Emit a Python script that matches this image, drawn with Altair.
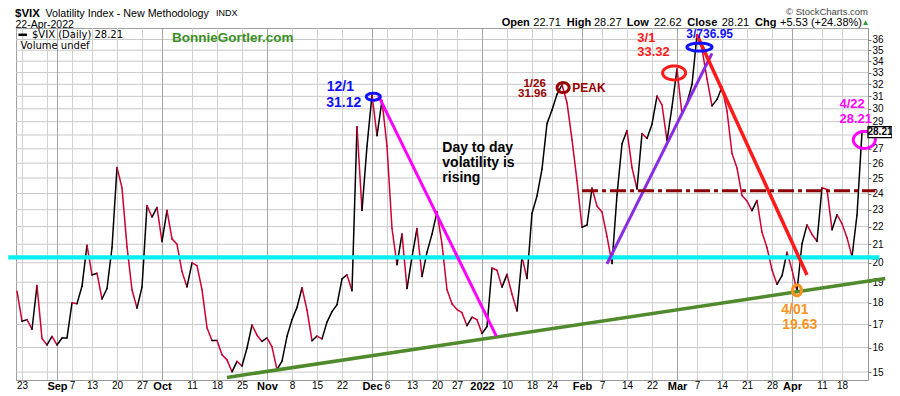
import altair as alt
import numpy as np
import pandas as pd

# ---------------- data ----------------
# $VIX daily closes, trading days 20-Aug-2021 .. 22-Apr-2022 (index 0 = Aug 20)
vix_close = [18.56, 17.15, 17.22, 16.79, 18.84, 16.39, 16.11, 16.48,
             16.11, 16.41, 16.41, 18.00, 17.96, 18.80, 20.95, 19.37, 19.46, 18.18, 18.69, 20.81,
             25.71, 24.36, 20.87, 18.63, 17.75, 18.76, 23.25, 22.56, 23.14,
             21.15, 22.96, 21.30, 21.00, 19.54, 18.77, 20.00, 19.85, 18.64, 16.86, 16.30,
             16.30, 15.70, 15.49, 15.01, 15.43, 15.24, 15.98, 16.98, 16.53, 16.26,
             16.41, 16.03, 15.10, 15.44, 16.48, 17.22, 17.78, 18.73, 17.66, 16.29,
             16.49, 16.37, 17.11, 17.59, 17.91, 19.17, 19.38, 18.58, 28.62, 22.96, 27.19,
             31.12, 27.95, 30.67, 27.18, 21.89, 19.90, 21.58, 18.69, 20.31, 21.89, 19.29,
             20.57, 21.57, 22.87, 21.01, 18.63, 17.96, 17.68, 17.54, 16.95, 17.33, 17.22,
             16.60, 16.91, 19.73, 19.61, 18.76, 19.40, 18.41, 17.62, 20.31, 19.19,
             22.79, 23.85, 25.59, 28.85, 29.90, 31.16, 31.96, 30.49, 27.66, 24.83,
             21.96, 22.09, 24.35, 23.22, 22.86, 21.44, 19.96, 23.91, 27.36, 28.33,
             25.70, 24.29, 28.11, 27.75, 28.81, 31.02, 30.32, 27.59, 30.15,
             33.32, 29.57, 30.48, 31.98, 36.45, 35.13, 32.45, 30.23, 30.75, 31.77,
             29.83, 26.67, 25.67, 23.87, 23.53, 22.94, 23.57, 21.67, 20.81, 19.63, 18.90, 19.33, 20.56,
             19.63, 18.57, 21.03, 22.10, 21.55, 21.16, 24.37, 24.26, 21.82, 22.70,
             22.17, 21.37, 20.32, 22.68, 28.21]
assert len(vix_close) == 170

tick_idx = [1, 6, 8, 11, 15, 20, 25, 29, 35, 40, 45, 50, 55, 60, 65, 71, 74, 79, 84, 88,
            93, 98, 103, 107, 113, 117, 122, 127, 132, 136, 141, 146, 151, 155, 161, 165]
tick_lab = ["23", "", "Sep", "7", "13", "20", "27", "Oct", "11", "18", "25", "Nov", "8", "15",
            "22", "Dec", "6", "13", "20", "27", "2022", "10", "18", "24", "Feb", "7", "14", "22",
            "Mar", "7", "14", "21", "28", "Apr", "11", "18"]
month_idx = [8, 29, 50, 71, 93, 113, 132, 155]
y_ticks = list(range(15, 37))

# trend / level lines
line_x0 = [-1.74, 42.0, 72.3, 118.0, 136.0, 113.0]
line_v0 = [20.29, 14.79, 31.04, 19.94, 36.43, 24.18]
line_x1 = [172.46, 173.66, 95.86, 139.0, 158.0, 171.66]
line_v1 = [20.29, 19.19, 16.49, 34.71, 19.37, 24.18]
line_col = ["#00f0f0", "#4f8a2c", "#ff00ff", "#8a2be2", "#ff1a1a", "#8b0000"]
line_w = [4.2, 3.5, 3.0, 3.0, 3.5, 3.0]
line_dash = [None, None, None, None, None, [16, 4, 4, 4]]

# highlight ellipses: centre (index, value), outer width/height in px, colour
ell_x = [71.26, 109.22, 131.42, 136.5, 156.0, 169.46]
ell_v = [30.97, 31.72, 32.97, 35.29, 18.60, 27.64]
ell_w = [17, 15, 26, 28, 12, 25]
ell_h = [10, 13, 17, 11, 14, 20]
ell_col = ["#1010ff", "#990000", "#ff1a1a", "#1010ff", "#f7931e", "#ff00ff"]

# annotation texts
ann_x = [61.96, 61.86, 105.76, 105.96, 111.06, 85.06, 85.06, 85.06, 124.06, 124.06,
         133.86, 164.5, 164.5, 152.86, 153.06]
ann_v = [31.46, 30.16, 31.80, 30.93, 31.39, 26.79, 25.75, 24.75, 35.79, 34.47,
         36.13, 30.05, 28.90, 17.47, 16.79]
ann_t = ["12/1", "31.12", "1/26", "31.96", "PEAK", "Day to day", "volatility is", "rising",
         "3/1", "33.32", "3/736.95", "4/22", "28.21", "4/01", "19.63"]
ann_c = ["#1010ff", "#1010ff", "#990000", "#990000", "#990000", "#000000", "#000000", "#000000",
         "#ff1a1a", "#ff1a1a", "#1010ff", "#ff00ff", "#ff00ff", "#f7931e", "#f7931e"]
ann_s = [14, 14, 11.5, 11.5, 12, 14, 14, 14, 13, 13, 12, 13, 13, 14, 14]
ann_a = ["left", "left", "right", "right", "left", "left", "left", "left",
         "left", "left", "left", "left", "left", "left", "left"]

# header texts (pixel positions relative to plot origin)
hdr_t = ["$VIX", "Volatility Index - New Methodology", "INDX", "22-Apr-2022", "\u00a9 StockCharts.com",
         "Open", "22.71", "High", "28.27", "Low", "22.62", "Close", "28.21", "Chg", "+5.53 (+24.38%)", "\u25b2"]
hdr_x = [-1, 29.5, 200, -0.5, 852, 485.7, 517.3, 550.7, 578, 610.7, 638, 671.3, 705.7, 739, 764, 845.5]
hdr_y = [-11, -11.5, -12, -0.5, -13, -2.0, -2.0, -2.0, -2.0, -2.0, -2.0, -2.0, -2.0, -2.0, -2.0, -3.0]
hdr_s = [11.5, 10.7, 9, 10.5, 9.5, 11, 11, 11, 11, 11, 11, 11, 11, 11, 11, 8]
hdr_w = ["bold", "normal", "normal", "normal", "normal", "bold", "normal", "bold", "normal", "bold",
         "normal", "bold", "normal", "bold", "normal", "normal"]
hdr_c = ["#000", "#000", "#000", "#000", "#444", "#000", "#000", "#000", "#000", "#000", "#000",
         "#000", "#000", "#000", "#000", "#2a9a2a"]
hdr_a = ["left", "left", "left", "left", "right"] + ["left"] * 11

FONT = "Liberation Sans, Arial"

# ---------------- scales / axes ----------------
xscale = alt.Scale(domain=[-0.2, 170.2], nice=False, zero=False)
yscale = alt.Scale(type="log", domain=[14.69, 37.11], nice=False)
one = pd.DataFrame({"k": [0]})

idx = list(range(len(vix_close)))
seg = pd.DataFrame({"x0": idx[:-1], "x1": idx[1:], "y0": vix_close[:-1], "y1": vix_close[1:]})
seg["c"] = np.where(seg["y1"] >= seg["y0"], "#000000", "#cc0033")

js_idx = "[" + ",".join(str(i) for i in tick_idx) + "]"
js_lab = "[" + ",".join("'" + l + "'" for l in tick_lab) + "]"
js_mon = "[" + ",".join(str(i) for i in month_idx) + "]"
is_month = f"indexof({js_mon}, datum.value) >= 0"

x_axis = alt.Axis(
    values=tick_idx, labelExpr=f"{js_lab}[indexof({js_idx}, datum.value)]",
    title=None, grid=False, ticks=False, labelPadding=0, labelFlush=False, labelOverlap=False,
    labelFont=FONT, labelColor="#000",
    labelFontSize={"condition": {"test": is_month, "value": 11}, "value": 10},
    labelFontWeight={"condition": {"test": is_month, "value": "bold"}, "value": "normal"},
    domainColor="#888", domainDash=[1, 2])
y_axis = alt.Axis(
    values=y_ticks, orient="right", title=None, grid=False, labelOverlap=False,
    labelExpr="datum.value == 28 ? '' : format(datum.value, 'd')",
    labelFont=FONT, labelFontSize=10,
    labelColor="#000", labelPadding=1, tickSize=3, tickColor="#777",
    domainColor="#888", domainDash=[1, 2])


def X(v):
    return alt.XDatum(v, scale=xscale, axis=x_axis)


def Y(v):
    return alt.YDatum(v, scale=yscale, axis=y_axis)


# grid drawn as rule layers (vertical at the date ticks, horizontal at each integer level)
vgrid = pd.DataFrame({"gx": [i + 0.1 for i in tick_idx],
                      "gc": ["#a4a4a4" if i in month_idx else "#d0d0d0" for i in tick_idx]})
hgrid = pd.DataFrame({"gy": y_ticks})
grid_v = alt.Chart(vgrid).mark_rule(strokeWidth=1).encode(
    x=alt.X("gx:Q", scale=xscale, axis=x_axis), color=alt.Color("gc:N", scale=None))
grid_h = alt.Chart(hgrid).mark_rule(strokeWidth=1, color="#c8c8c8").encode(
    y=alt.Y("gy:Q", scale=yscale, axis=y_axis))

price = alt.Chart(seg).mark_rule(strokeWidth=1.5, strokeCap="round").encode(
    x=alt.X("x0:Q", scale=xscale, axis=x_axis),
    x2="x1:Q",
    y=alt.Y("y0:Q", scale=yscale, axis=y_axis),
    y2="y1:Q",
    color=alt.Color("c:N", scale=None),
)

layers = [grid_h, grid_v, price]

for x0, v0, x1, v1, col, w, dash in zip(line_x0, line_v0, line_x1, line_v1, line_col, line_w, line_dash):
    kw = dict(color=col, strokeWidth=w)
    if dash:
        kw["strokeDash"] = dash
    layers.append(alt.Chart(one).mark_rule(**kw).encode(
        x=X(x0), x2=alt.X2Datum(x1), y=Y(v0), y2=alt.Y2Datum(v1)))


def ellipse_path(w, h):
    r = h / w
    ang = np.linspace(0, 2 * np.pi, 40, endpoint=False)
    pts = [f"{np.cos(a):.3f},{r * np.sin(a):.3f}" for a in ang]
    return "M" + " L".join(pts) + " Z"


for x, v, w, h, col in zip(ell_x, ell_v, ell_w, ell_h, ell_col):
    layers.append(alt.Chart(one).mark_point(
        shape=ellipse_path(w - 3, h - 3), size=(w - 3) ** 2, filled=False, color=col,
        strokeWidth=3, opacity=1).encode(x=X(x), y=Y(v)))

for x, v, t, c, s, a in zip(ann_x, ann_v, ann_t, ann_c, ann_s, ann_a):
    layers.append(alt.Chart(one).mark_text(
        text=t, color=c, fontSize=s, fontWeight="bold", align=a, baseline="alphabetic",
        font=FONT).encode(x=X(x), y=Y(v)))

# price tag on the right axis (must stay inside the 884px-wide drawing)
tag_x = 172.6
layers.append(alt.Chart(one).mark_point(
    shape="M -1 -0.46 L 1 -0.46 L 1 0.46 L -1 0.46 Z", size=24 ** 2, filled=True,
    fill="#ffffff", stroke="#000000", strokeWidth=1.3, opacity=1).encode(
    x=X(tag_x), y=Y(vix_close[-1])))
layers.append(alt.Chart(one).mark_text(
    text=f"{vix_close[-1]:.2f}", fontSize=10, fontWeight="bold", color="#000", font=FONT,
    baseline="middle").encode(x=X(tag_x), y=Y(vix_close[-1])))

for t, x, y, s, w, c, a in zip(hdr_t, hdr_x, hdr_y, hdr_s, hdr_w, hdr_c, hdr_a):
    layers.append(alt.Chart(one).mark_text(
        text=t, fontSize=s, fontWeight=w, color=c, align=a, baseline="alphabetic",
        font=FONT).encode(x=alt.value(x), y=alt.value(y)))

# in-plot legend
layers.append(alt.Chart(one).mark_rule(color="#000", strokeWidth=2.5).encode(
    x=alt.value(2.5), x2=alt.value(11), y=alt.value(6.8)))
layers.append(alt.Chart(one).mark_text(
    text=f"$VIX (Daily) {vix_close[-1]:.2f}", fontSize=10, font="DejaVu Sans", color="#000",
    align="left", baseline="alphabetic").encode(x=alt.value(16), y=alt.value(10.3)))
layers.append(alt.Chart(one).mark_text(
    text="Volume undef", fontSize=10, font="DejaVu Sans", color="#000",
    align="left", baseline="alphabetic").encode(x=alt.value(4.5), y=alt.value(20.5)))
layers.append(alt.Chart(one).mark_text(
    text="BonnieGortler.com", fontSize=13.5, fontWeight="bold", font=FONT, color="#3a8f23",
    align="left", baseline="alphabetic").encode(x=alt.value(156), y=alt.value(13.7)))

chart = alt.layer(*layers).properties(
    width=852, height=352,
    padding={"left": 8, "top": 20, "right": 24, "bottom": 12},
    autosize=alt.AutoSizeParams(type="none"),
    background="#ffffff",
).configure_view(stroke="#a0a0a0", strokeWidth=1)

chart.save("out.html", embed_options={"renderer": "svg", "actions": False})
